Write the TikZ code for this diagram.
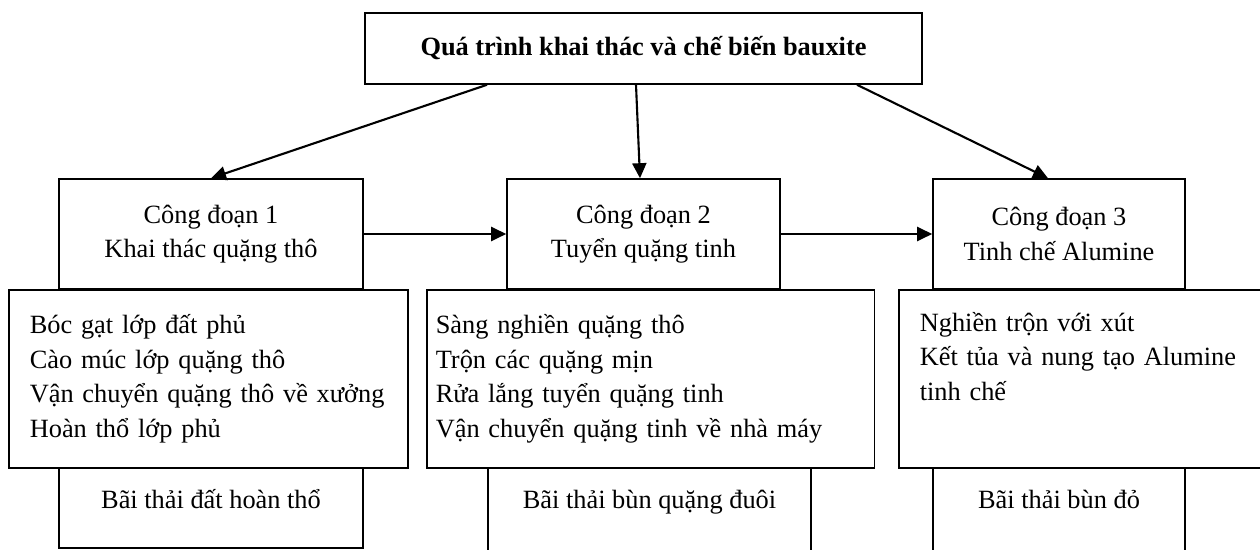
\documentclass[tikz,border=0pt]{standalone}
\usepackage{fontspec}
\setmainfont{Liberation Serif}
\usetikzlibrary{arrows.meta}

\tikzset{
  box/.style={draw, line width=0.9pt, fill=white, inner sep=0pt, align=center},
  stagebox/.style={box, minimum height=2.2cm},
  taskbox/.style={box, anchor=north west, minimum height=3.56cm, align=left},
  wastebox/.style={box, anchor=north, text height=0.82cm},
  flow/.style={line width=1.2pt, -{Triangle[length=0.3cm,width=0.28cm]}}
}

\begin{document}
\begin{tikzpicture}[font=\fontsize{15}{19.7}\selectfont]
    \useasboundingbox (0, 0) rectangle (25.2, 11);
    \clip (0, 0) rectangle (25.2, 11);

    \node (title) [box, minimum width=11.14cm, minimum height=1.42cm, font=\fontsize{15}{19.7}\selectfont\bfseries]
      at (12.87, 10.03) {Quá trình khai thác và chế biến bauxite};

    % cong doan
    \node (cd1) [stagebox, minimum width=6.08cm] at (4.22, 6.32) {Công đoạn 1\\Khai thác quặng thô};
    \node (cd2) [stagebox, minimum width=5.46cm] at (12.87, 6.32) {Công đoạn 2\\Tuyển quặng tinh};
    \node (cd3) [stagebox, minimum width=5.04cm] at (21.18, 6.32) {Công đoạn 3\\Tinh chế Alumine};

    \node (tasks1) [taskbox, inner xsep=0.42cm, text width=7.14cm] at (0.16, 5.22)
      {Bóc gạt lớp đất phủ\\Cào múc lớp quặng thô\\Vận chuyển quặng thô về xưởng\\Hoàn thổ lớp phủ};
    \node (tasks2) [taskbox, inner xsep=0.18cm, text width=8.59cm] at (8.52, 5.22)
      {Sàng nghiền quặng thô\\Trộn các quặng mịn\\Rửa lắng tuyển quặng tinh\\Vận chuyển quặng tinh về nhà máy};
    \node (tasks3) [taskbox, inner xsep=0.42cm, text width=6.8cm] at (17.96, 5.22)
      {Nghiền trộn với xút\\Kết tủa và nung tạo Alumine\\tinh chế\\\strut};

    % bai thai
    \node (waste1) [wastebox, minimum width=6.08cm, text depth=0.78cm] at (4.22, 1.66) {Bãi thải đất hoàn thổ};
    \node (waste2) [wastebox, minimum width=6.46cm, text depth=0.9cm] at (12.99, 1.66) {Bãi thải bùn quặng đuôi};
    \node (waste3) [wastebox, minimum width=5.04cm, text depth=0.9cm] at (21.18, 1.66) {Bãi thải bùn đỏ};

    \draw [flow] ([xshift=-3.13cm]title.south) -- (cd1.north);
    \draw [flow] ([xshift=-0.15cm]title.south) -- ([xshift=-0.07cm]cd2.north);
    \draw [flow] ([xshift=4.27cm]title.south) -- ([xshift=-0.22cm]cd3.north);
    \draw [flow] (cd1) -- (cd2);
    \draw [flow] (cd2) -- (cd3);
  \end{tikzpicture}
\end{document}
